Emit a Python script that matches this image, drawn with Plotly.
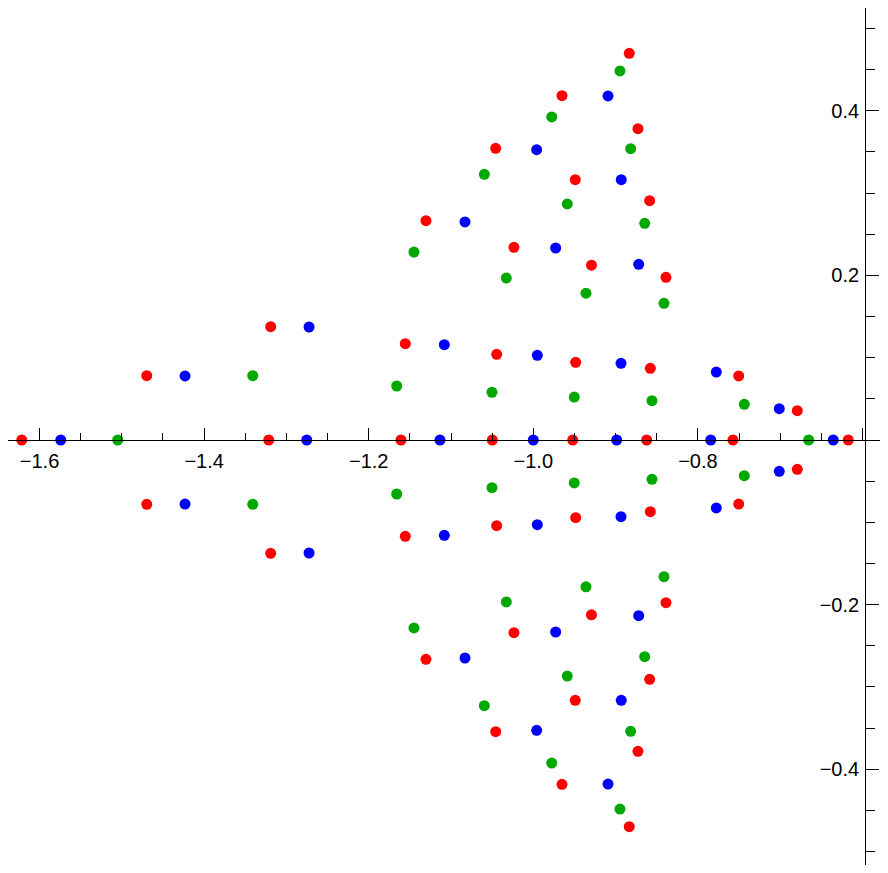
import plotly.graph_objects as go

# ---- data ----
red_x = [-0.8834, -0.9651, -0.8728, -1.0457, -0.9490, -0.8586, -1.1304, -1.0235, -0.9293,
         -0.8388, -1.3191, -1.1555, -1.0445, -0.9485, -0.8578, -1.4697, -0.7504, -0.6792,
         -1.6216, -1.3215, -1.1608, -1.0498, -0.9521, -0.8622, -0.7574, -0.6173,
         -0.8834, -0.9651, -0.8728, -1.0457, -0.9490, -0.8586, -1.1304, -1.0235, -0.9293,
         -0.8388, -1.3191, -1.1555, -1.0445, -0.9485, -0.8578, -1.4697, -0.7504, -0.6792]
red_y = [0.4699, 0.4184, 0.3783, 0.3544, 0.3163, 0.2908, 0.2665, 0.2341, 0.2124,
         0.1977, 0.1377, 0.1170, 0.1041, 0.0944, 0.0871, 0.0781, 0.0778, 0.0356,
         0.0, 0.0, 0.0, 0.0, 0.0, 0.0, 0.0, 0.0,
         -0.4699, -0.4184, -0.3783, -0.3544, -0.3163, -0.2908, -0.2665, -0.2341, -0.2124,
         -0.1977, -0.1377, -0.1170, -0.1041, -0.0944, -0.0871, -0.0781, -0.0778, -0.0356]

blue_x = [-0.9092, -0.9959, -0.8931, -1.0830, -0.9728, -0.8719, -1.2725, -1.1081, -0.9951,
          -0.8934, -0.7776, -1.4232, -0.7011,
          -1.5742, -1.2753, -1.1134, -1.0000, -0.8987, -0.7844, -0.6355,
          -0.9092, -0.9959, -0.8931, -1.0830, -0.9728, -0.8719, -1.2725, -1.1081, -0.9951,
          -0.8934, -0.7776, -1.4232, -0.7011]
blue_y = [0.4180, 0.3527, 0.3163, 0.2649, 0.2333, 0.2135, 0.1373, 0.1158, 0.1029,
          0.0932, 0.0826, 0.0778, 0.0380,
          0.0, 0.0, 0.0, 0.0, 0.0, 0.0, 0.0,
          -0.4180, -0.3527, -0.3163, -0.2649, -0.2333, -0.2135, -0.1373, -0.1158, -0.1029,
          -0.0932, -0.0826, -0.0778, -0.0380]

green_x = [-0.8947, -0.9776, -0.8817, -1.0595, -0.9587, -0.8646, -1.1450, -1.0328, -0.9360,
           -0.8412, -1.3409, -1.1660, -1.0502, -0.9502, -0.8558, -0.7436,
           -1.5050, -0.6654,
           -0.8947, -0.9776, -0.8817, -1.0595, -0.9587, -0.8646, -1.1450, -1.0328, -0.9360,
           -0.8412, -1.3409, -1.1660, -1.0502, -0.9502, -0.8558, -0.7436]
green_y = [0.4484, 0.3925, 0.3540, 0.3228, 0.2868, 0.2633, 0.2284, 0.1968, 0.1784,
           0.1661, 0.0781, 0.0656, 0.0580, 0.0522, 0.0478, 0.0434,
           0.0, 0.0,
           -0.4484, -0.3925, -0.3540, -0.3228, -0.2868, -0.2633, -0.2284, -0.1968, -0.1784,
           -0.1661, -0.0781, -0.0656, -0.0580, -0.0522, -0.0478, -0.0434]

x_tick_vals = [-1.6, -1.4, -1.2, -1.0, -0.8, -0.6]
x_tick_text = ["\u22121.6", "\u22121.4", "\u22121.2", "\u22121.0", "\u22120.8", ""]
y_tick_vals = [-0.4, -0.2, 0.0, 0.2, 0.4]
y_tick_text = ["\u22120.4", "\u22120.2", "", "0.2", "0.4"]
x_minor_vals = [-1.65, -1.55, -1.5, -1.45, -1.35, -1.3, -1.25, -1.15, -1.1, -1.05,
                -0.95, -0.9, -0.85, -0.75, -0.7, -0.65]
y_minor_vals = [-0.5, -0.45, -0.35, -0.3, -0.25, -0.15, -0.1, -0.05,
                0.05, 0.1, 0.15, 0.25, 0.3, 0.35, 0.45, 0.5]

# page has an 8px body margin, so the figure is a bit smaller than the window
X_RANGE = [-1.6383, -0.5787]
Y_RANGE = [-0.5164, 0.5249]
Y_AXIS_AT = -0.5966

fig = go.Figure()
for xs, ys, col in [(red_x, red_y, "#FF0000"), (blue_x, blue_y, "#0000FF"),
                    (green_x, green_y, "#00A800")]:
    fig.add_trace(go.Scatter(x=xs, y=ys, mode="markers",
                             marker=dict(color=col, size=11, line=dict(width=0)),
                             showlegend=False, hoverinfo="x+y"))

x_pos = (0 - Y_RANGE[0]) / (Y_RANGE[1] - Y_RANGE[0])
y_pos = (Y_AXIS_AT - X_RANGE[0]) / (X_RANGE[1] - X_RANGE[0])

font = dict(family="Liberation Sans, Arial, sans-serif", size=20, color="black")

fig.update_layout(
    width=872, height=857,
    margin=dict(l=0, r=0, t=0, b=0),
    paper_bgcolor="white", plot_bgcolor="white",
    showlegend=False,
    xaxis=dict(range=X_RANGE, anchor="free", position=x_pos, side="bottom",
               showgrid=False, zeroline=False, showline=True, linecolor="black",
               linewidth=1.2, ticks="inside", ticklen=12, tickwidth=1, tickcolor="black",
               tickmode="array", tickvals=x_tick_vals, ticktext=x_tick_text,
               tickfont=font, automargin=False, ticklabelstandoff=3,
               minor=dict(tickmode="array", tickvals=x_minor_vals, ticks="inside",
                          ticklen=7, tickwidth=1, tickcolor="black", showgrid=False)),
    yaxis=dict(range=Y_RANGE, anchor="free", position=y_pos, side="left",
               showgrid=False, zeroline=False, showline=True, linecolor="black",
               linewidth=1.2, ticks="inside", ticklen=13, tickwidth=1, tickcolor="black",
               tickmode="array", tickvals=y_tick_vals, ticktext=y_tick_text,
               tickfont=font, automargin=False, ticklabelstandoff=2,
               minor=dict(tickmode="array", tickvals=y_minor_vals, ticks="inside",
                          ticklen=9, tickwidth=1, tickcolor="black", showgrid=False)),
)

fig.write_html("out.html")
